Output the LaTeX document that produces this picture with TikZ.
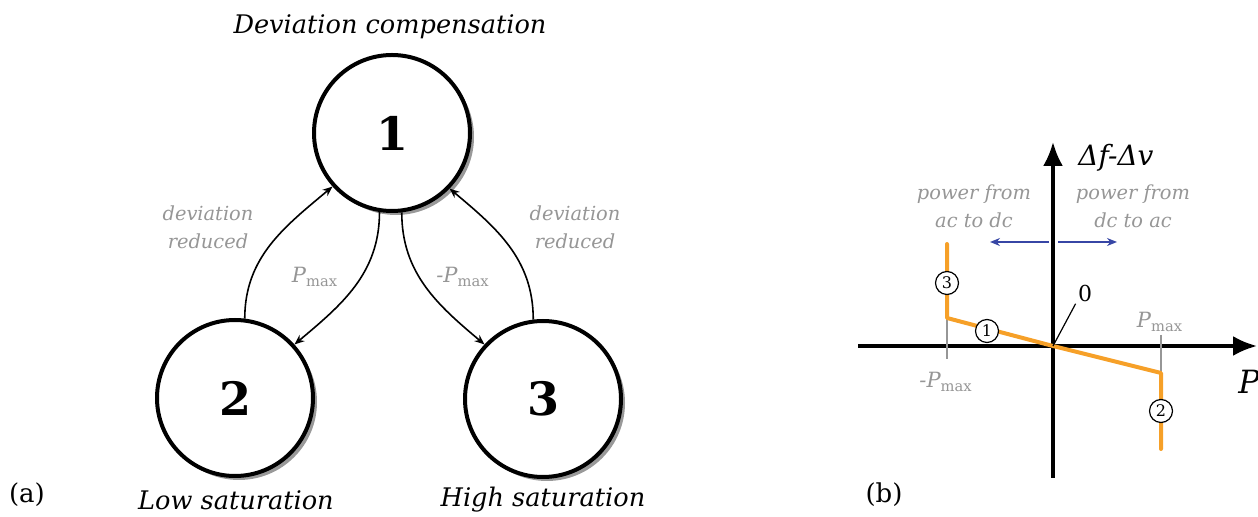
\documentclass[tikz,border=0pt]{standalone}
\usepackage{fontspec}
\setmainfont{DejaVu Serif}
\usetikzlibrary{arrows.meta,shadows}
\definecolor{droopline}{RGB}{246,160,40}
\definecolor{flowblue}{RGB}{55,70,165}
\definecolor{notegray}{RGB}{150,150,150}

\begin{document}
\begin{tikzpicture}[x=0.5pt,y=0.5pt,>={Stealth[length=5pt,width=4pt]},
	state/.style={circle,draw,line width=2pt,minimum size=78pt,inner sep=0pt,fill=white,
		drop shadow={shadow xshift=2pt,shadow yshift=-2pt,fill=black!40,opacity=1},
		font=\fontsize{23}{23}\selectfont\bfseries},
	title/.style={font=\fontsize{12.8}{16}\selectfont\itshape},
	note/.style={text=notegray,font=\fontsize{9.7}{14}\selectfont\itshape,align=center},
	flow/.style={->,line width=0.8pt},
	tag/.style={circle,draw,fill=white,line width=0.6pt,inner sep=0.6pt,minimum size=11.5pt,
		font=\fontsize{8}{8}\selectfont},
	axis/.style={line width=1.7pt,-{Latex[length=12pt,width=10pt]}}]

\useasboundingbox (0,0) rectangle (1258,-517);

% (a) state diagram
\begin{scope}
	\node[state] (s1) at (392,-133) {1};
	\node[state] (s2) at (235,-398) {2};
	\node[state] (s3) at (543,-399) {3};
	\node[title] (t1) at (390,-27) {Deviation compensation};
	\node[title] (t2) at (236,-500) {Low saturation};
	\node[title] (t3) at (543,-500) {High saturation};
	\draw[flow] (s2.83) to[out=90,in=220] (s1.222);
	\draw[flow] (s1.261) to[out=-90,in=40] (s2.42);
	\draw[flow] (s1.277) to[out=-90,in=140] (s3.137);
	\draw[flow] (s3.97) to[out=90,in=-40] (s1.316);
	\node[note] (red2) at (208,-227) {deviation\\reduced};
	\node[note] (red3) at (575,-227) {deviation\\reduced};
	\node[note,font=\fontsize{10.5}{14}\selectfont\itshape] (pmx) at (315,-277) {\textit{P}\textsubscript{\upshape max}};
	\node[note,font=\fontsize{10.5}{14}\selectfont\itshape] (npmx) at (463,-277) {-\textit{P}\textsubscript{\upshape max}};
	\node[font=\fontsize{13}{15}\selectfont] (la) at (27,-495) {(a)};
\end{scope}

% (b) droop characteristic
\begin{scope}
	\coordinate (o) at (1053,-346);
	\draw[axis] (858,-346) -- (1257,-346);
	\draw[axis] (1053,-478) -- (1053,-142);
	\draw[notegray,line width=1pt] (947,-318) -- (947,-359);
	\draw[notegray,line width=1pt] (1161,-335) -- (1161,-373);
	\coordinate (a1) at (947,-244);
	\coordinate (a2) at (947,-318);
	\coordinate (b1) at (1161,-373);
	\coordinate (b2) at (1161,-449);
	\draw[droopline,line width=2pt,line cap=round,line join=round] (a1) -- (a2) -- (o) -- (b1) -- (b2);
	\node[tag] (m3) at (947,-283) {3};
	\node[tag] (m1) at (987,-331) {1};
	\node[tag] (m2) at (1161,-411) {2};
	\node[font=\fontsize{11}{12}\selectfont,inner sep=1pt] (zero) at (1085,-293) {0};
	\draw[line width=0.6pt] (o) -- (zero.south west);
	\node[font=\fontsize{14}{16}\selectfont\itshape] (yl) at (1116,-158) {Δf-Δv};
	\node[font=\fontsize{16}{18}\selectfont\itshape] (xl) at (1249,-382) {P};
	\node[note] (acdc) at (974,-206) {power from\\ac to dc};
	\node[note] (dcac) at (1133,-206) {power from\\dc to ac};
	\coordinate (bl) at (1049,-242);
	\coordinate (br) at (1058,-242);
	\draw[flowblue,->,line width=0.8pt] (bl) -- (990,-242);
	\draw[flowblue,->,line width=0.8pt] (br) -- (1117,-242);
	\node[note,font=\fontsize{10.5}{14}\selectfont\itshape] (npm) at (946,-382) {-\textit{P}\textsubscript{\upshape max}};
	\node[note,font=\fontsize{10.5}{14}\selectfont\itshape] (pm) at (1160,-322) {\textit{P}\textsubscript{\upshape max}};
	\node[font=\fontsize{13}{15}\selectfont] (lb) at (884,-495) {(b)};
\end{scope}

\end{tikzpicture}
\end{document}
